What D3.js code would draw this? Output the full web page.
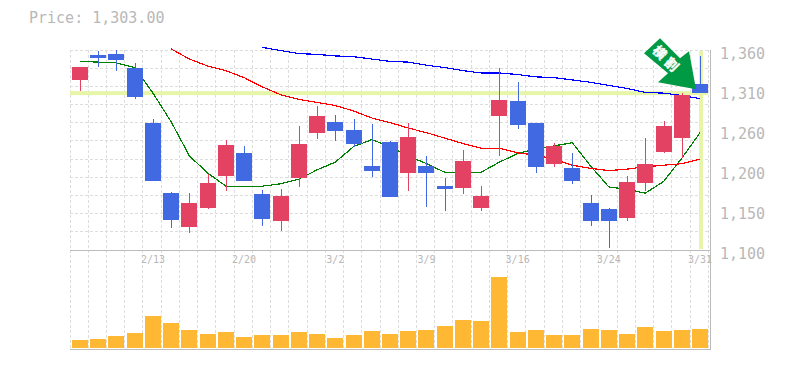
<!DOCTYPE html>
<html>
<head>
<meta charset="utf-8">
<script src="https://cdn.jsdelivr.net/npm/d3@7/dist/d3.min.js"></script>
<style>
html,body{margin:0;padding:0;background:#fff;}
svg{display:block;}
text{font-family:"DejaVu Sans Mono","Liberation Mono",monospace;fill:#b8b8b8;}
</style>
</head>
<body>
<svg id="chart" width="785" height="370"></svg>
<script>
const title = "Price: 1,303.00";
const priceTicks = ["1,100","1,150","1,200","1,260","1,310","1,360"];
const dateIndex = [4,9,14,19,24,29,34];
const dateLabels = ["2/13","2/20","3/2","3/9","3/16","3/24","3/31"];
const currentPrice = 1303;
const noteText = "横割";

const open  = [1320,1352,1354,1335,1265,1174,1130,1155,1196,1226,1173,1138,1193,1252,1266,1255,1209,1240,1199,1209,1183,1181,1155,1274,1293,1265,1212,1206,1161,1154,1141,1188,1228,1246,1315];
const close = [1337,1348,1346,1297,1190,1139,1161,1187,1236,1190,1141,1170,1237,1274,1255,1237,1203,1169,1246,1200,1179,1216,1170,1294,1262,1208,1235,1189,1138,1138,1188,1212,1261,1301,1303];
const high  = [1337,1357,1359,1342,1270,1176,1174,1199,1243,1235,1178,1179,1261,1286,1275,1270,1263,1241,1265,1222,1194,1230,1183,1335,1317,1265,1239,1226,1172,1155,1196,1245,1267,1303,1351];
const low   = [1306,1337,1332,1295,1190,1130,1123,1154,1177,1190,1132,1125,1182,1243,1241,1234,1195,1169,1177,1156,1151,1173,1151,1221,1257,1201,1208,1186,1132,1103,1138,1177,1226,1219,1303];

const maShort = [1344,1343,1342,1336,1303,1266,1222,1200,1183,1183,1183,1186,1192,1204,1214,1234,1243,1234,1222,1212,1201,1201,1201,1214,1225,1231,1235,1239,1209,1182,1179,1174,1189,1219,1252];
const maMid = [null,null,null,null,null,1360,1347,1338,1332,1323,1311,1301,1295,1291,1287,1280,1271,1265,1258,1252,1245,1238,1232,1232,1226,1223,1218,1210,1206,1203,1205,1208,1210,1212,1218];
const maLong = [null,null,null,null,null,null,null,null,null,null,1362,1358,1354,1353,1351,1350,1347,1344,1343,1339,1336,1332,1329,1329,1327,1324,1323,1320,1317,1313,1309,1304,1303,1300,1296];
const volumes = [80,90,120,150,320,250,180,140,160,110,130,130,160,140,100,130,170,140,170,180,220,280,270,710,160,180,130,130,190,180,140,210,170,180,190];

const C = {up:"#E34262", down:"#4169E1", vol:"#FFB833", band:"#E6F5A8", grid:"#ddd", frame:"#bbb", note:"#009944"};

const svg = d3.select("#chart");

const x = d3.scalePoint().domain(d3.range(35)).range([80,700]);
const y = d3.scaleLinear().domain([1100,1358]).range([250.5,50.5]);
const gridRows = d3.scaleLinear().domain([0,11]).range([50,250]);
const labelY = d3.scalePoint().domain(priceTicks).range([253,53]);
const v = d3.scaleLinear().domain([0,710]).range([348,277]);

const crisp = d => Math.floor(d) + .5;

svg.append("text").attr("x",29).attr("y",23).attr("font-size",15).text(title);

// grid
const grid = svg.append("g").attr("stroke",C.grid).attr("stroke-dasharray","3,2").attr("fill","none");
d3.range(36).forEach(i=>{
  const xp = crisp((i<35 ? x(i) : x(34)+18.235) - 10);
  grid.append("line").attr("x1",xp).attr("x2",xp).attr("y1",50).attr("y2",349);
});
d3.range(11).forEach(k=>{
  const yp = crisp(gridRows(k));
  grid.append("line").attr("x1",70).attr("x2",710).attr("y1",yp).attr("y2",yp);
});

// frame
const frame = svg.append("g").attr("stroke",C.frame).attr("fill","none");
frame.append("line").attr("x1",70).attr("x2",710.5).attr("y1",250.5).attr("y2",250.5);
frame.append("line").attr("x1",70).attr("x2",710.5).attr("y1",349.5).attr("y2",349.5);
frame.append("line").attr("x1",710.5).attr("x2",710.5).attr("y1",50).attr("y2",350);

// current price bands
svg.append("rect").attr("x",70).attr("width",638).attr("y",y(currentPrice)-2).attr("height",4).attr("fill",C.band);
svg.append("rect").attr("x",x(34)-1).attr("width",4).attr("y",51).attr("height",198).attr("fill",C.band);

// moving averages
const line = d3.line().defined(d=>d!=null).x((d,i)=>x(i)).y(d=>y(d));
[[maShort,"#008000"],[maMid,"#ff0000"],[maLong,"#0000ff"]].forEach(([s,c])=>{
  svg.append("path").attr("d",line(s)).attr("fill","none").attr("stroke",c).attr("stroke-width",1.2).attr("shape-rendering","crispEdges");
});

// candles
const candles = svg.append("g").attr("shape-rendering","crispEdges");
d3.range(35).forEach(i=>{
  const col = close[i]>=open[i] ? C.up : C.down;
  const left = Math.round(x(i)-8);
  candles.append("rect").attr("x",left+8).attr("width",1).attr("y",Math.round(y(high[i]))).attr("height",Math.round(y(low[i])-y(high[i]))).attr("fill",col);
  const t = y(Math.max(open[i],close[i])), b = y(Math.min(open[i],close[i]));
  candles.append("rect").attr("x",left).attr("width",16).attr("y",Math.round(t)).attr("height",Math.max(3,Math.round(b-t))).attr("fill",col);
});

// volume
svg.append("g").selectAll("rect").data(volumes).join("rect")
  .attr("x",(d,i)=>Math.round(x(i)-8)).attr("width",16)
  .attr("y",d=>v(d)).attr("height",d=>348-v(d)).attr("fill",C.vol);

// labels
svg.append("g").selectAll("text").data(priceTicks).join("text")
  .attr("x",720).attr("y",d=>labelY(d)+6).attr("font-size",15).text(d=>d);
svg.append("g").selectAll("text").data(dateLabels).join("text")
  .attr("x",(d,i)=>x(dateIndex[i])).attr("y",263).attr("text-anchor","middle").attr("font-size",10).text(d=>d);

// note arrow, anchored to the last candle
const note = svg.append("g").attr("transform",`translate(${x(34)-4},${y(currentPrice)-4})`);
const arrow = d3.path();
arrow.moveTo(0,0);arrow.lineTo(-38,-7);arrow.lineTo(-28,-16);arrow.lineTo(-52,-36);arrow.lineTo(-36,-51);arrow.lineTo(-16,-31);arrow.lineTo(-7,-38);arrow.closePath();
note.append("path").attr("d",arrow.toString()).attr("fill",C.note);
note.append("text").attr("transform","translate(-29,-29) rotate(45)")
  .attr("text-anchor","middle").attr("dy","0.35em").attr("font-size",13).attr("font-weight",700).attr("letter-spacing",4)
  .attr("stroke","#fff").attr("stroke-width",0.4)
  .style("font-family","'Noto Sans CJK JP'").style("fill","#fff").text(noteText);
</script>
</body>
</html>
